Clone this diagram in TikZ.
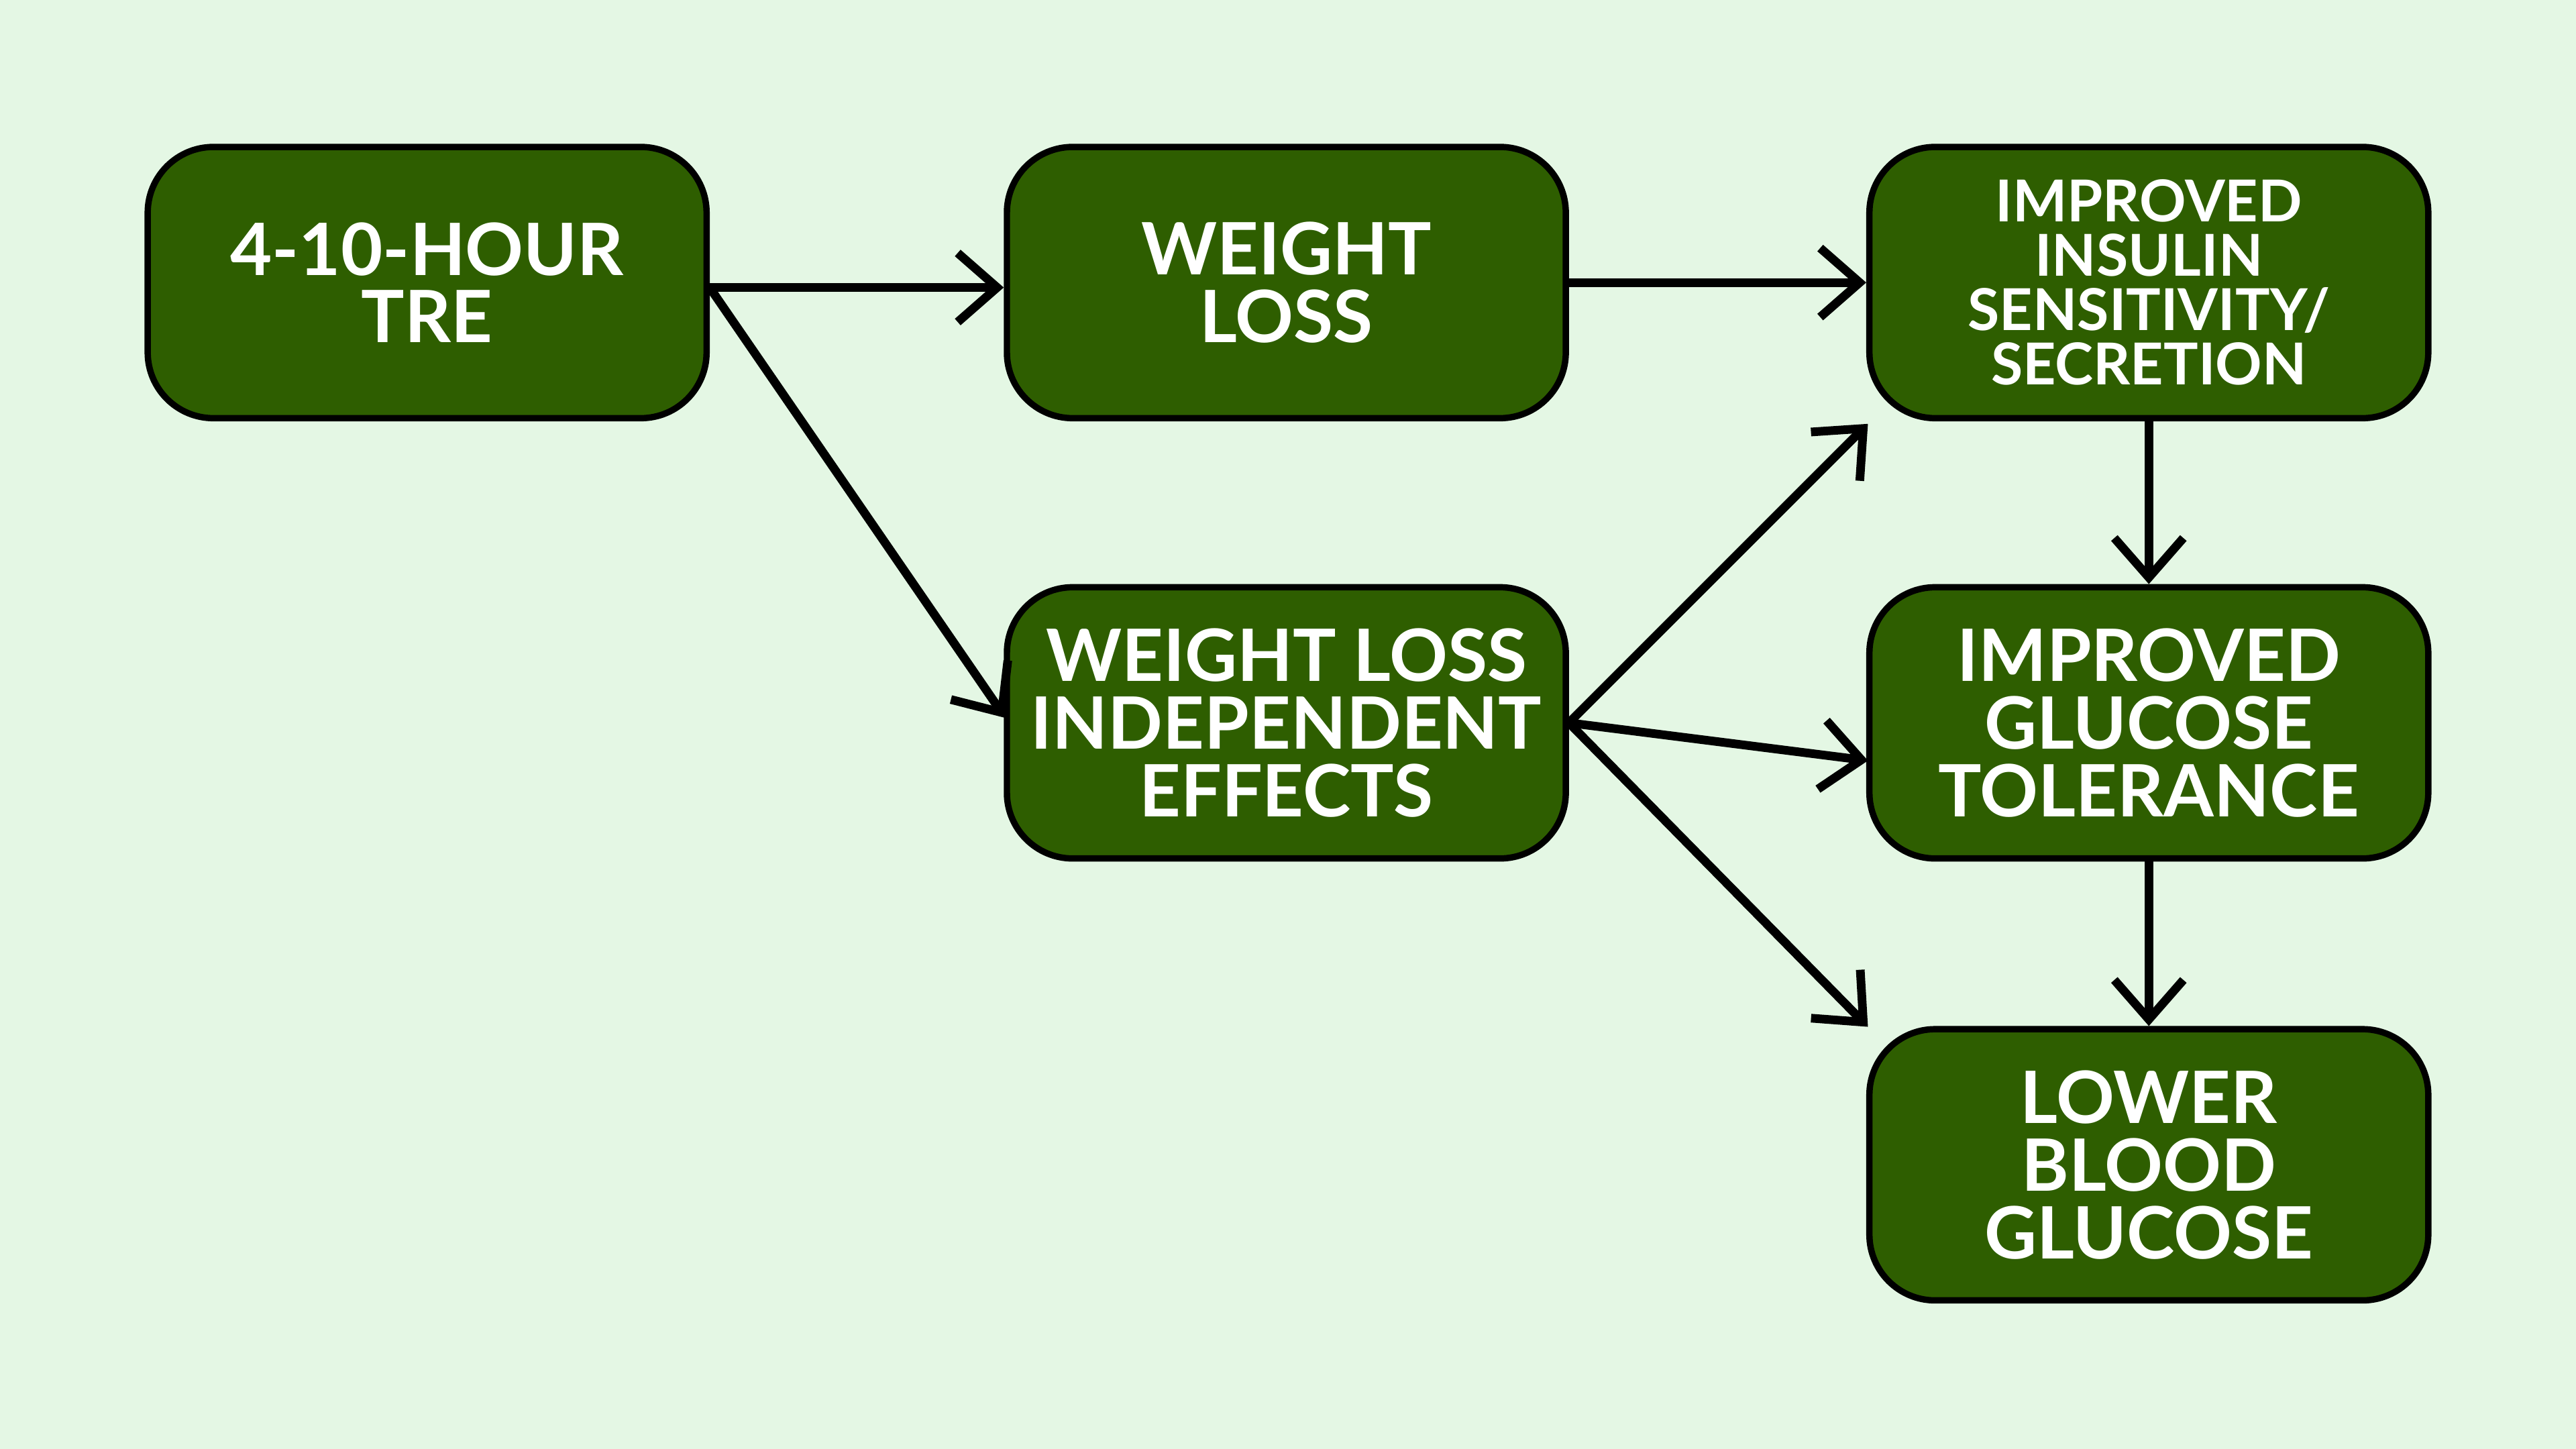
\documentclass[tikz,border=0pt]{standalone}
\usepackage{fontspec}
\setmainfont{Lato}
\usetikzlibrary{arrows.meta}
\definecolor{bg}{HTML}{E4F7E4}
\definecolor{box}{HTML}{2E5E00}
\begin{document}
\begin{tikzpicture}[x=0.01cm,y=-0.01cm,
  b/.style={draw=black,line width=1.1pt,fill=box,rounded corners=0.4cm,minimum width=3.4cm,minimum height=1.65cm,align=center,text=white,font=\bfseries\fontsize{12.5}{11.7}\selectfont,inner sep=0pt},
  a/.style={line width=1.5pt,-{Straight Barb[length=2.4mm,width=4.2mm,line width=1.5pt]}}]
\fill[bg] (0,0) rectangle (1568,882);
\useasboundingbox (0,0) rectangle (1568,882);
\node[b] (A) at (260,172) {4-10-HOUR\\TRE};
\node[b] (B) at (783,172) {WEIGHT\\LOSS};
\node[b,font=\bfseries\fontsize{10}{9.4}\selectfont] (C) at (1308,172) {IMPROVED\\INSULIN\\SENSITIVITY/\\SECRETION};
\node[b] (D) at (783,440) {WEIGHT LOSS\\INDEPENDENT\\EFFECTS};
\node[b] (E) at (1308,440) {IMPROVED\\GLUCOSE\\TOLERANCE};
\node[b] (F) at (1308,709) {LOWER\\BLOOD\\GLUCOSE};
\coordinate (a1) at (432,175);
\coordinate (d1) at (955,440);
\draw[a] (a1) -- (B.west|-a1);
\draw[a] (a1) -- (612,437) coordinate (dw);
\draw[a] (B.east) -- (C.west);
\draw[a] (d1) -- (1137,258) coordinate (c1);
\draw[a] (d1) -- (1137,463) coordinate (e1);
\draw[a] (d1) -- (1137,625) coordinate (f1);
\draw[a] (C.south) -- (E.north);
\draw[a] (E.south) -- (F.north);
\end{tikzpicture}
\end{document}
